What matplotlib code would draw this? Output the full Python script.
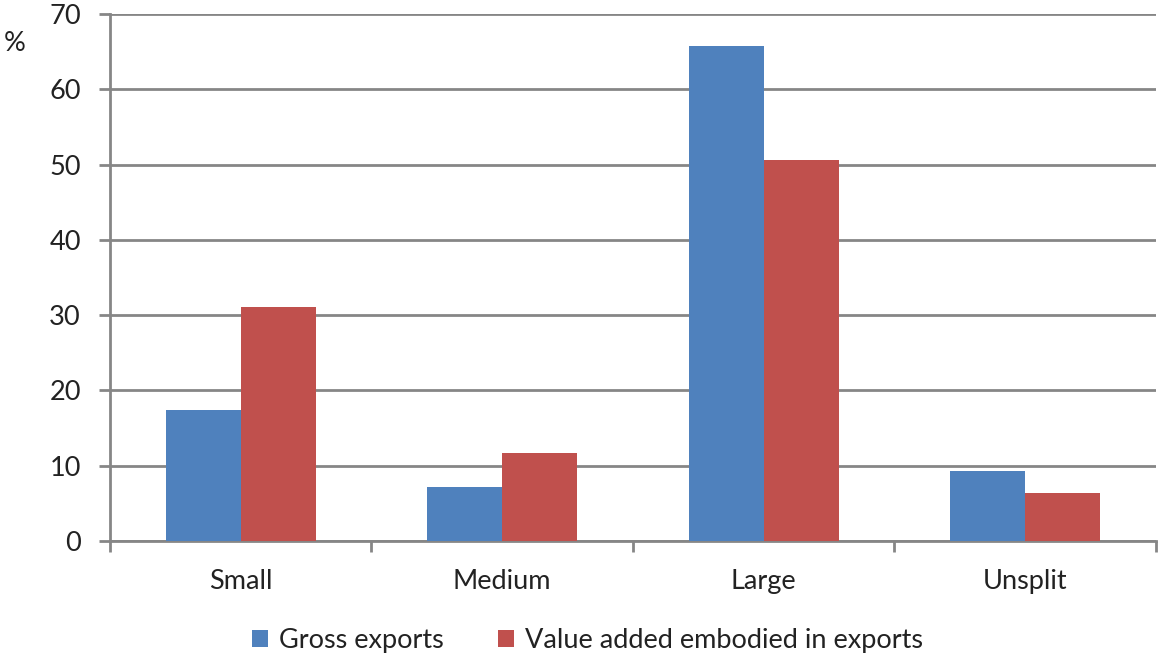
import numpy as np
import matplotlib.pyplot as plt
from matplotlib.patches import Patch

# Anteile nach Unternehmensgröße (in %)
kategorien = ['Small', 'Medium', 'Large', 'Unsplit']
brutto_exporte = [17.4, 7.2, 65.8, 9.3]
wertschoepfung = [31.1, 11.7, 50.6, 6.4]
reihen_namen = ['Gross exports', 'Value added embodied in exports']

blau = '#4F81BD'
rot = '#C0504D'
grau = '#868686'
schrift = 19.5

plt.rcParams['font.family'] = ['Lato', 'DejaVu Sans']

fig = plt.figure(figsize=(11.58, 6.55), dpi=100, facecolor='white')
ax = fig.add_axes([0.095, 0.174, 0.903, 0.8046])

x = np.arange(len(kategorien))
breite = 0.287
ax.bar(x - breite / 2, brutto_exporte, breite, color=blau, zorder=3)
ax.bar(x + breite / 2, wertschoepfung, breite, color=rot, zorder=3)

ax.set_xlim(-0.5, len(kategorien) - 0.5)
ax.set_ylim(0, 70)
ax.set_yticks(range(0, 71, 10))
ax.yaxis.grid(True, color=grau, linewidth=2, zorder=0)

# Kategorienamen mittig, Teilstriche an den Gruppengrenzen
ax.set_xticks(np.arange(-0.5, len(kategorien), 1.0))
ax.set_xticklabels([])
ax.set_xticks(x, minor=True)
ax.set_xticklabels(kategorien, minor=True, fontsize=schrift, color='#222222')
ax.tick_params(axis='x', which='major', length=8, width=2, color=grau)
ax.tick_params(axis='x', which='minor', length=0, pad=20)
ax.tick_params(axis='y', length=8, width=2, color=grau, labelsize=schrift,
               labelcolor='#222222', pad=13)

for seite in ['top', 'right']:
    ax.spines[seite].set_visible(False)
for seite in ['left', 'bottom']:
    ax.spines[seite].set_color(grau)
    ax.spines[seite].set_linewidth(2)

fig.text(0.003, 0.933, '%', fontsize=schrift, color='#222222', ha='left', va='center')

griffe = [Patch(facecolor=blau), Patch(facecolor=rot)]
fig.legend(griffe, reihen_namen, loc='center', bbox_to_anchor=(0.507, 0.022),
           ncol=2, frameon=False, fontsize=schrift, handlelength=0.6, handleheight=0.6,
           handletextpad=0.4, columnspacing=2.0, labelcolor='#222222')

fig.savefig('out.png', dpi=100, facecolor='white')
